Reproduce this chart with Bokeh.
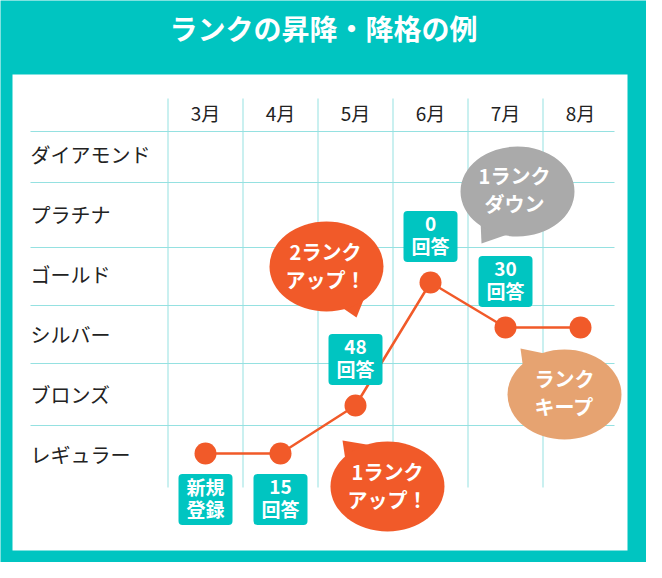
from bokeh.plotting import figure
from bokeh.models import Range1d
from bokeh.core.properties import value
from bokeh.embed import file_html
from bokeh.resources import INLINE

# ---------------- data ----------------
title_text = "ランクの昇降・降格の例"
months = ["3月", "4月", "5月", "6月", "7月", "8月"]
ranks = ["レギュラー", "ブロンズ", "シルバー", "ゴールド", "プラチナ", "ダイアモンド"]
rank_pos = [0.05, 0.05, 0.85, 2.9, 2.15, 2.15]
answer_labels = ["新規\n登録", "15\n回答", "48\n回答", "0\n回答", "30\n回答", ""]
label_side = [-1, -1, 1, 1, 1, 0]
bubble_texts = ["2ランク\nアップ！", "1ランク\nアップ！", "1ランク\nダウン", "ランク\nキープ"]
bubble_colors = ["#F15A29", "#F15A29", "#AAAAAA", "#E6A371"]

# ---------------- styles / layout ----------------
TEAL = "#00C5C1"
ORANGE = "#F15A29"
GRID = "#95E1E1"
FONT = value("Noto Sans CJK JP")
W, H = 646, 562
OFF = 8
X0, DX = 213.0, 75.0   # pixel of month index 0, pixels per month
Y0, DY = 464.0, 60.0   # pixel of rank 0, pixels per rank
TY = -2                # text baseline nudge (px)


def fx(px):
    return (px - X0) / DX


def fy(py):
    return (Y0 - py) / DY


def multiline(xs, ys, texts, size, spacing, color="white", bold=True):
    """Draw multi-line labels line by line (centered block)."""
    lx, ly, lt, lo = [], [], [], []
    for x, y, t in zip(xs, ys, texts):
        parts = t.split("\n")
        n = len(parts)
        for k, part in enumerate(parts):
            lx.append(x)
            ly.append(y)
            lt.append(part)
            lo.append((k - (n - 1) / 2) * spacing + TY)
    p.text(x=lx, y=ly, text=lt, y_offset=lo, text_font=FONT,
           text_font_size=size, text_font_style="bold" if bold else "normal",
           text_color=color, text_align="center", text_baseline="middle")


p = figure(width=W, height=H,
           x_range=Range1d(fx(OFF), fx(OFF + W)),
           y_range=Range1d(fy(OFF + H), fy(OFF)),
           output_backend="svg", toolbar_location=None,
           x_axis_location=None, y_axis_location=None,
           min_border=0, outline_line_color=None,
           background_fill_color=TEAL, border_fill_color=TEAL)
p.xgrid.grid_line_color = None
p.ygrid.grid_line_color = None

# white panel
p.quad(left=[fx(20)], right=[fx(635)], top=[fy(82)], bottom=[fy(558)],
       fill_color="white", line_color=None)

# title
p.text(x=[fx(331)], y=[fy(37)], text=[title_text], text_font=FONT,
       text_font_size="28px", text_font_style="bold", text_color="white",
       text_align="center", text_baseline="middle", y_offset=TY)

# table grid
hl = [139, 190, 255, 313, 371, 433]
p.segment(x0=[fx(38)] * len(hl), x1=[fx(622)] * len(hl),
          y0=[fy(v) for v in hl], y1=[fy(v) for v in hl],
          line_color=GRID, line_width=1)
vx = [i - 0.5 for i in range(len(months))]
p.segment(x0=vx, x1=vx, y0=[fy(106)] * len(vx), y1=[fy(495)] * len(vx),
          line_color=GRID, line_width=1)

# row / column labels
p.text(x=[fx(38)] * len(ranks), y=list(range(len(ranks))), text=ranks,
       text_font=FONT, text_font_size="20px", text_color="#222222",
       text_align="left", text_baseline="middle", y_offset=TY)
p.text(x=list(range(len(months))), y=[fy(122)] * len(months), text=months,
       text_font=FONT, text_font_size="19px", text_color="#222222",
       text_align="center", text_baseline="middle", y_offset=TY)

# line + points
xs = list(range(len(months)))
p.line(x=xs, y=rank_pos, line_color=ORANGE, line_width=2.5)
p.scatter(x=xs, y=rank_pos, size=22, fill_color=ORANGE, line_color=None)

# answer boxes
bx, by, bt = [], [], []
for i, (lab, s) in enumerate(zip(answer_labels, label_side)):
    if lab:
        bx.append(i)
        by.append(rank_pos[i] + s * 46 / DY)
        bt.append(lab)
hw, hh = 27 / DX, 25.5 / DY
p.quad(left=[x - hw for x in bx], right=[x + hw for x in bx],
       top=[y + hh for y in by], bottom=[y - hh for y in by],
       fill_color=TEAL, line_color=None, border_radius=4)
multiline(bx, by, bt, "19px", 22)

# speech bubbles
b_center = [(334, 274), (395, 494), (525, 199), (572, 402)]
b_text = [(333, 275), (395, 495), (522, 199), (572, 402)]
b_tail = [[(345, 312), (364, 325), (374, 300)],
          [(353, 468), (350, 448), (380, 453)],
          [(488, 228), (489, 251), (515, 242)],
          [(531, 378), (528, 356), (552, 361)]]
for (cx, cy), tail, col in zip(b_center, b_tail, bubble_colors):
    p.patch(x=[fx(a) for a, b in tail], y=[fy(b) for a, b in tail],
            fill_color=col, line_color=None)
    p.ellipse(x=[fx(cx)], y=[fy(cy)], width=114, height=90,
              width_units="screen", height_units="screen",
              fill_color=col, line_color=None)
multiline([fx(c[0]) for c in b_text], [fy(c[1]) for c in b_text],
          bubble_texts, "20px", 28)

open("out.html", "w").write(file_html(p, INLINE))
